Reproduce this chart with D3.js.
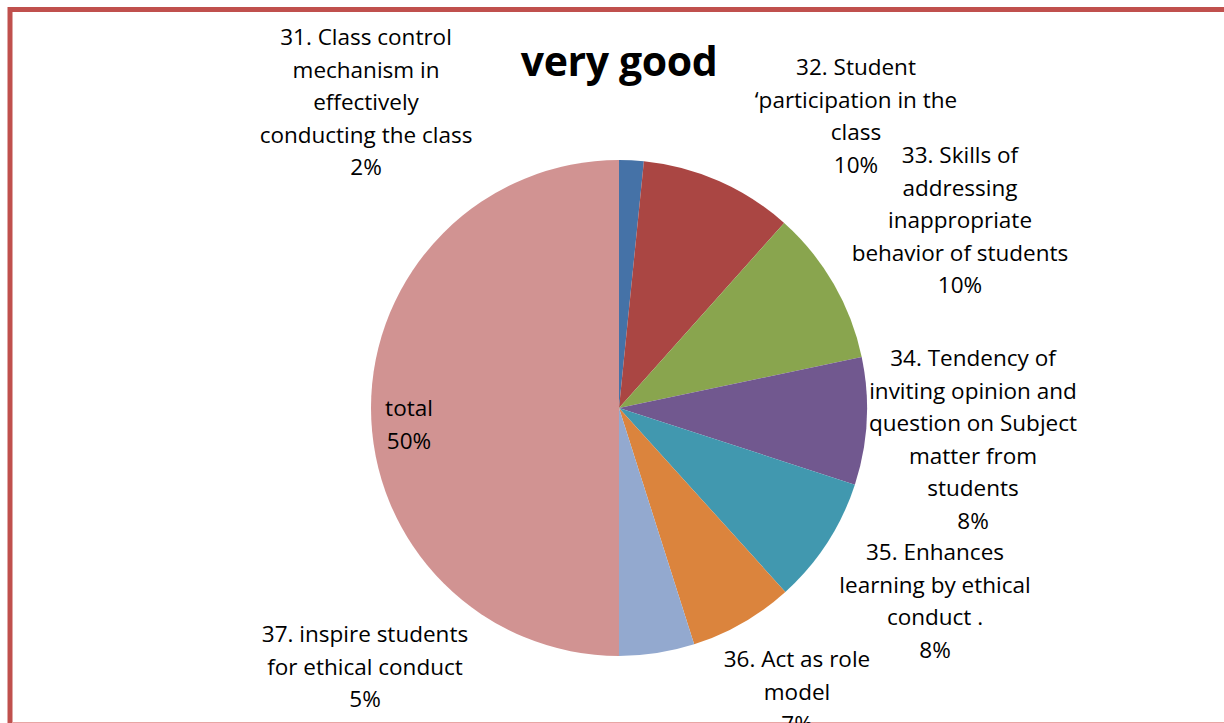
<!DOCTYPE html>
<html><head><meta charset="utf-8">
<script src="https://cdn.jsdelivr.net/npm/d3@7"></script>
<style>body{margin:0;background:#fff;} svg{display:block;}</style>
</head><body>
<svg id="c" width="1224" height="723"></svg>
<script>
const categories = ["31. Class control mechanism in effectively conducting the class",
  "32. Student ‘participation in the class",
  "33. Skills of addressing inappropriate behavior of students",
  "34. Tendency of inviting opinion and question on Subject matter from students",
  "35. Enhances learning by ethical conduct .",
  "36. Act as role model",
  "37. inspire students for ethical conduct",
  "total"];
const values = [1.6, 10.0, 10.1, 8.3, 8.3, 6.8, 4.9, 50.0];
const pctLabels = ["2%","10%","10%","8%","8%","7%","5%","50%"];
const labelLines = [
  ["31. Class control","mechanism in","effectively","conducting the class"],
  ["32. Student","‘participation in the","class"],
  ["33. Skills of","addressing","inappropriate","behavior of students"],
  ["34. Tendency of","inviting opinion and","question on Subject","matter from","students"],
  ["35. Enhances","learning by ethical","conduct ."],
  ["36. Act as role","model"],
  ["37. inspire students","for ethical conduct"],
  ["total"]
];
const colors = ["#4572A7","#AA4643","#89A54E","#71588F","#4198AF","#DB843D","#93A9CF","#D19392"];
const title = "very good";

const svg = d3.select("#c");
const font = "'Open Sans', sans-serif";
// frame
svg.append("line").attr("x1",10).attr("x2",1224).attr("y1",9.5).attr("y2",9.5).attr("stroke","#C0504D").attr("stroke-width",5);
svg.append("line").attr("x1",10).attr("x2",10).attr("y1",7).attr("y2",723).attr("stroke","#C0504D").attr("stroke-width",5);
svg.append("line").attr("x1",12).attr("x2",1224).attr("y1",722.5).attr("y2",722.5).attr("stroke","#E8A6A4").attr("stroke-width",1.2);

const cx = 619, cy = 408, r = 248;
const pie = d3.pie().sort(null).value(d=>d)(values);
const arc = d3.arc().innerRadius(0).outerRadius(r);
const g = svg.append("g").attr("transform",`translate(${cx},${cy})`);
g.selectAll("path").data(pie).join("path").attr("d",arc).attr("fill",(d,i)=>colors[i]);

svg.append("text").attr("x",619).attr("y",76).attr("text-anchor","middle")
  .attr("font-family",font).attr("font-weight","bold").attr("font-size",41).attr("letter-spacing",-0.4).attr("fill","#000").text(title);

// label anchor positions (center x, first-line center y)
const labelPos = [[366,37],[856,67],[960,155],[973,358],[935,552],[797,659],[365,634],[409,408]];
const lh = 32.5;
labelLines.forEach((lines,i)=>{
  const all = lines.concat([pctLabels[i]]);
  const t = svg.append("text").attr("text-anchor","middle").attr("font-family",font).attr("font-size",22.5).attr("fill","#000");
  all.forEach((s,j)=>{
    t.append("tspan").attr("x",labelPos[i][0]).attr("y",labelPos[i][1]+j*lh+8).text(s);
  });
});
</script>
</body></html>
